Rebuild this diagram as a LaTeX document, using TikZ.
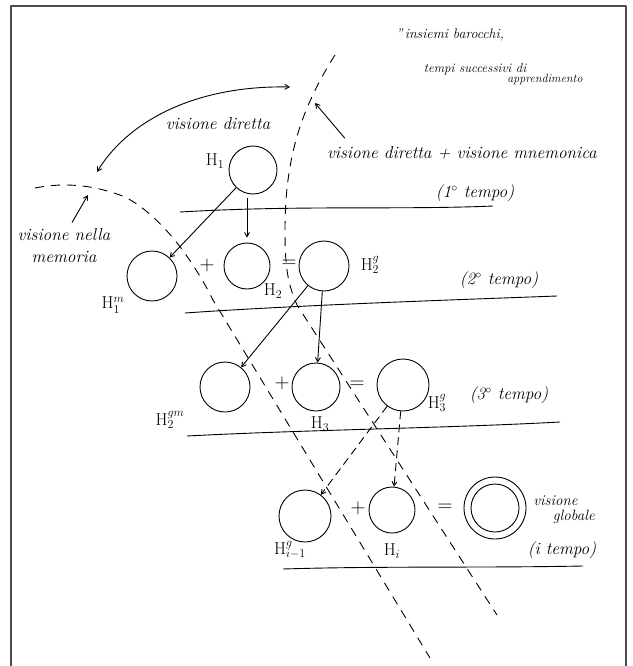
\documentclass[tikz,border=0pt]{standalone}
\usepackage{tikz}
\usetikzlibrary{arrows,shapes}

\tikzset{
  hcirc/.style={draw,circle,inner sep=0pt,minimum size=#1},
  hand/.style={font=\LARGE\itshape,inner sep=0pt},
  hlab/.style={font=\LARGE,inner sep=0pt},
  hop/.style={font=\huge,inner sep=0pt},
  hdash/.style={dash pattern=on 9bp off 7bp},
  hlink/.style={->,dash pattern=on 8bp off 5bp},
}

\begin{document}
\begin{tikzpicture}[>=angle 60,line join=bevel,x=1bp,y=-1bp]

\useasboundingbox (0,0) rectangle (633,666);
\pgfsetlinewidth{0.9bp}
\pgfsetcolor{black}

% Frame
\draw[line width=1.5bp,black!70] (11,666) -- (11,6) -- (626,6) -- (626,666);

% Texts
\node[hand,font=\fontsize{14}{16}\selectfont\itshape] (title) at (450,35) {\textquotedblright\,insiemi barocchi,};
\node[hand,font=\fontsize{13}{15}\selectfont\itshape] (tempi) at (475,69) {tempi successivi di};
\node[hand,font=\fontsize{12}{14}\selectfont\itshape] (appr) at (545,80) {apprendimento};
\node[hand] (diretta) at (218,124) {visione diretta};
\node[hand] (mnem) at (462,153) {visione diretta + visione mnemonica};
\node[hand,align=center] (nella) at (64,246) {visione nella\\memoria};
\node[hand] (t1) at (475,193) {(1$^\circ$ tempo)};
\node[hand] (t2) at (499,280) {(2$^\circ$ tempo)};
\node[hand] (t3) at (509,395) {(3$^\circ$ tempo)};
\node[hand] (ti) at (562,550) {(i tempo)};
\node[hand,font=\fontsize{15}{15}\selectfont\itshape,align=left,anchor=west] (globale) at (533,510) {visione\\\hspace*{1.3em}globale};

% Time lines
\draw (180,212) .. controls (300,205) and (400,210) .. (493,206);
\draw (185,313) .. controls (300,305) and (450,300) .. (557,296);
\draw (187,436) .. controls (300,430) and (450,428) .. (560,422);
\draw (283,569) .. controls (380,566) and (480,568) .. (583,566);

% Curve: visione nella memoria
\draw[hdash] (35,188) .. controls (65,182) and (95,185) .. (125,197)
  .. controls (160,215) and (192,258) .. (213,300) -- (430,658);

% Curve: visione diretta + visione mnemonica
\draw[hdash] (335,55) .. controls (300,110) and (285,160) .. (285,230)
  .. controls (285,265) and (287,282) .. (297,305) -- (497,615);

% Node: H1
\node[hcirc=48bp] (H1) at (253,170) {};
\node[hlab] (H1l) at (215,161) {$\mathrm{H}_1$};

% Node: H1m
\node[hcirc=50bp] (H1m) at (152,276) {};
\node[hlab] (H1ml) at (113,305) {$\mathrm{H}_1^m$};

\node[hop] (plus1) at (207,265) {$+$};

% Node: H2
\node[hcirc=46bp] (H2) at (247,266) {};
\node[hlab] (H2l) at (273,291) {$\mathrm{H}_2$};

\node[hop] (eq1) at (289,264) {$=$};

% Node: H2g
\node[hcirc=50bp] (H2g) at (324,266) {};
\node[hlab] (H2gl) at (370,265) {$\mathrm{H}_2^g$};

% Node: H2gm
\node[hcirc=50bp] (H2gm) at (225,387) {};
\node[hlab] (H2gml) at (170,420) {$\mathrm{H}_2^{gm}$};

\node[hop] (plus2) at (282,383) {$+$};

% Node: H3
\node[hcirc=48bp] (H3) at (316,387) {};
\node[hlab] (H3l) at (320,424) {$\mathrm{H}_3$};

\node[hop] (eq2) at (357,385) {$=$};

% Node: H3g
\node[hcirc=52bp] (H3g) at (403,385) {};
\node[hlab] (H3gl) at (437,403) {$\mathrm{H}_3^g$};

% Node: Hi1g
\node[hcirc=52bp] (Hi1g) at (305,516) {};
\node[hlab] (Hi1gl) at (290,550) {$\mathrm{H}_{i-1}^g$};

\node[hop] (plus3) at (358,508) {$+$};

% Node: Hi
\node[hcirc=46bp] (Hi) at (392,510) {};
\node[hlab] (Hil) at (392,551) {$\mathrm{H}_i$};

\node[hop] (eq3) at (445,508) {$=$};

% Node: glob
\node[hcirc=62bp] (glob) at (495,508) {};
\node[hcirc=48bp] (globin) at (glob) {};

% Edge: H1 -> H1m
\draw[->] (H1) -- (H1m);

% Edge: H1 -> H2
\draw[->,shorten <=4bp,shorten >=5bp] (H1.south -| H2.north) -- (H2.north);

% Edge: H2g -> H2gm
\draw[->] (H2g) -- (H2gm);

% Edge: H2g -> H3
\draw[->] (H2g) -- (H3);

% Edge: H3g -> Hi1g
\draw[hlink] (H3g) -- (Hi1g);

% Edge: H3g -> Hi
\draw[hlink] (H3g) -- (Hi);

% Edge: memoria <-> diretta
\coordinate (memtip) at (97,172);
\coordinate (dirtip) at (290,87);
\draw[<->] (memtip) .. controls (125,125) and (190,85) .. (dirtip);

% Edge: nella -> curve
\coordinate (nellatip) at (88,195);
\draw[->] ([xshift=8bp,yshift=6bp]nella.north) -- (nellatip);

% Edge: mnem -> curve
\coordinate (mnemtip) at (315,103);
\draw[->] ([xshift=18bp,yshift=8bp]mnem.north west) -- (mnemtip);

\end{tikzpicture}
\end{document}
